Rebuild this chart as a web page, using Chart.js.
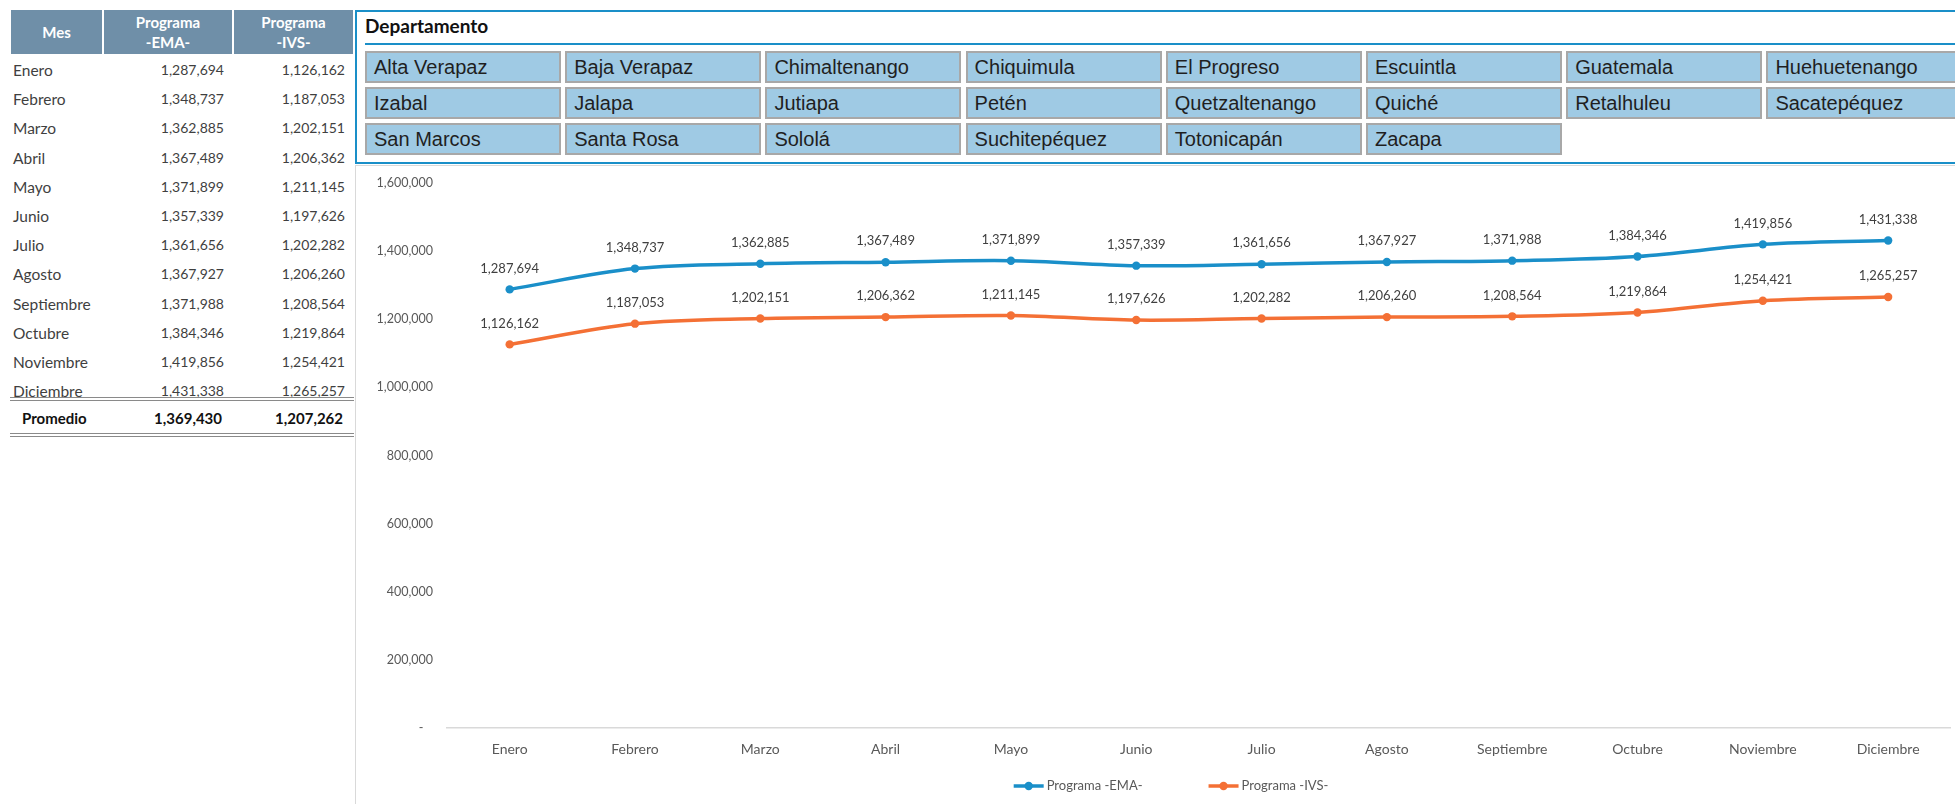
<!DOCTYPE html>
<html>
<head>
<meta charset="utf-8">
<script src="https://cdn.jsdelivr.net/npm/chart.js@4.4.1/dist/chart.umd.min.js"></script>
<style>
html,body{margin:0;padding:0;width:1955px;height:804px;overflow:hidden;background:#fff;font-family:Lato,"Open Sans",sans-serif;}
.hdr{position:absolute;top:10px;height:44px;background:#6f8fa8;color:#fff;font-weight:bold;font-size:15px;line-height:20px;display:flex;align-items:center;justify-content:center;text-align:center;}
.cell{position:absolute;height:20px;line-height:20px;color:#3f3f3f;white-space:nowrap;}
.name{font-size:15.5px;}
.num{font-size:14px;text-align:right;}
.bold{font-weight:bold;color:#111;font-size:15px;}
.dbl{position:absolute;left:10px;width:344px;height:0;border-top:4px double #8a8a8a;}
#slicer{position:absolute;left:355px;top:10px;width:1640px;height:150px;border-top:2px solid #1a8fc8;border-left:2px solid #1a8fc8;border-bottom:2px solid #1a8fc8;box-sizing:content-box;}
#stitle{position:absolute;left:365px;top:14px;font-family:Lato,sans-serif;font-weight:bold;font-size:19px;color:#111;line-height:24px;}
#sline{position:absolute;left:365px;top:43px;width:1600px;height:2px;background:#1a8fc8;}
.btn{position:absolute;width:196px;height:32px;box-sizing:border-box;border:2px solid #a8a8a8;background:#9fcae4;font-family:"Liberation Sans",Arial,sans-serif;font-size:20px;color:#1f1f1f;line-height:28px;padding-left:7px;white-space:nowrap;overflow:hidden;}
#chartbox{position:absolute;left:355px;top:165px;width:1610px;height:650px;border-left:1px solid #d9d9d9;border-top:1px solid #d9d9d9;}
#cv{position:absolute;left:357px;top:167px;}
</style>
</head>
<body>
<div id="root"></div>
<div id="slicer"></div>
<div id="stitle">Departamento</div>
<div id="sline"></div>
<div id="chartbox"></div>
<canvas id="cv" width="1598" height="637" style="width:1598px;height:637px;"></canvas>
<script>
// ---- DATA ----
const months = ["Enero","Febrero","Marzo","Abril","Mayo","Junio","Julio","Agosto","Septiembre","Octubre","Noviembre","Diciembre"];
const emaValues = [1287694,1348737,1362885,1367489,1371899,1357339,1361656,1367927,1371988,1384346,1419856,1431338];
const ivsValues = [1126162,1187053,1202151,1206362,1211145,1197626,1202282,1206260,1208564,1219864,1254421,1265257];
const promedio = [1369430,1207262];
const seriesNames = ["Programa -EMA-","Programa -IVS-"];
const tableHeaders = ["Mes","Programa<br>-EMA-","Programa<br>-IVS-"];
const departamentos = ["Alta Verapaz","Baja Verapaz","Chimaltenango","Chiquimula","El Progreso","Escuintla","Guatemala","Huehuetenango",
  "Izabal","Jalapa","Jutiapa","Petén","Quetzaltenango","Quiché","Retalhuleu","Sacatepéquez",
  "San Marcos","Santa Rosa","Sololá","Suchitepéquez","Totonicapán","Zacapa"];
const yTicksMin = 0, yTicksMax = 1600000, yTicksStep = 200000;

const fmt = v => v.toLocaleString('en-US');

// ---- TABLE ----
const root = document.getElementById('root');
function add(html, cls, style){ const d=document.createElement('div'); d.className=cls; d.innerHTML=html; Object.assign(d.style, style); root.appendChild(d); return d; }
const hcols = [[11,91],[104,128],[234,119]];
tableHeaders.forEach((h,i)=> add(h,'hdr',{left:hcols[i][0]+'px',width:hcols[i][1]+'px'}));
months.forEach((m,i)=>{
  const top = (70 + 29.2*i - 10) + 'px';
  add(m,'cell name',{left:'13px',top});
  add(fmt(emaValues[i]),'cell num',{left:'100px',width:'124px',top});
  add(fmt(ivsValues[i]),'cell num',{left:'221px',width:'124px',top});
});
add('','dbl',{top:'397px'});
add('Promedio','cell bold',{left:'22px',top:'408px'});
add(fmt(promedio[0]),'cell bold num',{left:'100px',width:'122px',top:'408px'});
add(fmt(promedio[1]),'cell bold num',{left:'221px',width:'122px',top:'408px'});
add('','dbl',{top:'433px'});

// ---- SLICER BUTTONS ----
departamentos.forEach((d,i)=>{
  const r = Math.floor(i/8), c = i%8;
  add(d,'btn',{left:(365 + 200.2*c)+'px', top:(51 + 36*r)+'px'});
});

// ---- CHART ----
const valueLabels = {
  id:'valueLabels',
  afterDatasetsDraw(chart){
    const ctx = chart.ctx;
    ctx.save();
    ctx.font = '13px Lato';
    ctx.fillStyle = '#404040';
    ctx.textAlign = 'center';
    ctx.textBaseline = 'middle';
    chart.data.datasets.forEach((ds,i)=>{
      chart.getDatasetMeta(i).data.forEach((pt,j)=>{
        ctx.fillText(fmt(ds.data[j]), pt.x, pt.y - 21);
      });
    });
    ctx.restore();
  }
};
const bottomLegend = {
  id:'bottomLegend',
  afterDraw(chart){
    const ctx = chart.ctx, ca = chart.chartArea;
    ctx.save();
    ctx.font = '13px Lato';
    ctx.textBaseline = 'middle';
    ctx.textAlign = 'left';
    const items = chart.data.datasets.map(ds=>({text:ds.label,color:ds.borderColor,w:ctx.measureText(ds.label).width}));
    const markW = 30, gap = 3, itemGap = 66;
    const total = items.reduce((s,it)=>s+markW+gap+it.w,0) + itemGap*(items.length-1);
    let x = chart.width/2 + 15 - total/2;
    const y = ca.bottom + 58;
    items.forEach(it=>{
      ctx.strokeStyle = it.color; ctx.lineWidth = 3.5;
      ctx.beginPath(); ctx.moveTo(x,y); ctx.lineTo(x+markW,y); ctx.stroke();
      ctx.fillStyle = it.color;
      ctx.beginPath(); ctx.arc(x+markW/2,y,4.2,0,Math.PI*2); ctx.fill();
      ctx.fillStyle = '#595959';
      ctx.fillText(it.text, x+markW+gap, y);
      x += markW + gap + it.w + itemGap;
    });
    ctx.restore();
  }
};

const BLUE = '#1a8fc9', ORANGE = '#f47035';

function build(){
  new Chart(document.getElementById('cv'), {
    type:'line',
    data:{
      labels: months,
      datasets:[
        {label:seriesNames[0], data:emaValues, borderColor:BLUE, backgroundColor:BLUE, borderWidth:3.5, pointRadius:4.2, pointHoverRadius:4.2, pointBorderWidth:0, pointBackgroundColor:BLUE, tension:0.35, fill:false},
        {label:seriesNames[1], data:ivsValues, borderColor:ORANGE, backgroundColor:ORANGE, borderWidth:3.5, pointRadius:4.2, pointHoverRadius:4.2, pointBorderWidth:0, pointBackgroundColor:ORANGE, tension:0.35, fill:false}
      ]
    },
    options:{
      responsive:false,
      animation:false,
      events:[],
      layout:{padding:{left:4,right:2,top:16,bottom:36}},
      plugins:{legend:{display:false},tooltip:{enabled:false},title:{display:false}},
      scales:{
        x:{
          type:'category',
          offset:true,
          grid:{display:false,drawTicks:false},
          border:{display:true,color:'#d9d9d9',width:1.5},
          ticks:{font:{family:'Lato',size:14},color:'#595959',padding:13,maxRotation:0,autoSkip:false},
          afterFit(s){ s.height = 40; }
        },
        y:{
          min:yTicksMin,max:yTicksMax,
          grid:{display:false,drawTicks:false},
          border:{display:false},
          ticks:{stepSize:yTicksStep,font:{family:'Lato',size:12.5},color:'#595959',padding:14,
            callback:v=> v===0 ? '-   ' : fmt(v)},
          afterFit(s){ s.width = 86; s.paddingTop = 8; s.paddingBottom = 8; }
        }
      }
    },
    plugins:[valueLabels,bottomLegend]
  });
}
if (document.fonts && document.fonts.load) {
  Promise.all([document.fonts.load('13px Lato'),document.fonts.load('bold 15px Lato')]).then(build, build);
} else build();
</script>
</body>
</html>
